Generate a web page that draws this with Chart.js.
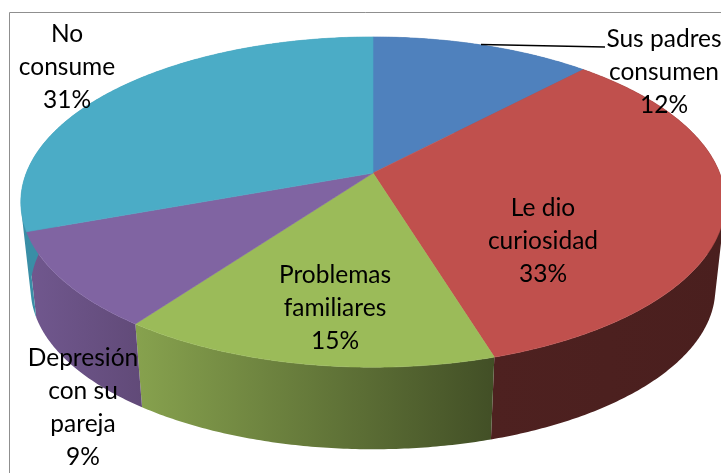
<!DOCTYPE html>
<html>
<head>
<meta charset="utf-8">
<style>
html,body{margin:0;padding:0;background:#fff;overflow:hidden}
canvas{display:block}
</style>
<script src="https://cdn.jsdelivr.net/npm/chart.js@4"></script>
</head>
<body>
<canvas id="c" width="721" height="473"></canvas>
<script>
const categories = ["Sus padres consumen", "Le dio curiosidad", "Problemas familiares", "Depresión con su pareja", "No consume"];
const values = [12, 33.3, 14.7, 9.4, 30.6];
const labelLines = [["Sus padres", "consumen", "12%"], ["Le dio", "curiosidad", "33%"], ["Problemas", "familiares", "15%"], ["Depresión", "con su", "pareja", "9%"], ["No", "consume", "31%"]];
const topColors = ["#4f81bd", "#c0504d", "#9bbb59", "#8064a2", "#4bacc6"];
const wallLeft = ["#3c628f", "#4e2120", "#87a24e", "#71588f", "#3a8ea6"];
const wallRight = ["#3c628f", "#4a1f1e", "#424f26", "#614a78", "#3a8ea6"];

// layout (separate from the data)
const labelAnchors = [[664, 39], [543, 208], [335, 275], [83, 358], [67, 34]];
const lineStep = 33;
const perspective = 0.176, xScale = 2.004, yScale = 0.925, floorScale = 0.972, floorDrop = 87.5;

function project(el, angle, isFloor) {
  const u = Math.cos(angle), v = Math.sin(angle), R = el.outerRadius;
  const s = isFloor ? floorScale : 1, w = 1 - perspective * v;
  return [el.x + s * xScale * R * u / w, el.y + (isFloor ? floorDrop : 0) + s * yScale * R * v / w];
}
function sampleAngles(el) {
  const n = Math.max(2, Math.ceil((el.endAngle - el.startAngle) / 0.01)), out = [];
  for (let i = 0; i <= n; i++) out.push(el.startAngle + (el.endAngle - el.startAngle) * i / n);
  return out;
}
// top face of each slice: the library's arc element, seen through the tilted projection
Chart.ArcElement.prototype.draw = function (ctx) {
  const o = this.options;
  ctx.save();
  ctx.beginPath();
  ctx.moveTo(this.x, this.y);
  sampleAngles(this).forEach(a => { const p = project(this, a, false); ctx.lineTo(p[0], p[1]); });
  ctx.closePath();
  ctx.fillStyle = o.backgroundColor;
  ctx.strokeStyle = o.backgroundColor;
  ctx.lineWidth = 0.6;
  ctx.fill();
  ctx.stroke();
  ctx.restore();
};

const pie3d = {
  id: "pie3d",
  beforeDraw(chart) {
    const ctx = chart.ctx;
    ctx.save();
    ctx.strokeStyle = "#8f8f8f";
    ctx.lineWidth = 1;
    ctx.beginPath();
    ctx.moveTo(721, 12.5);
    ctx.lineTo(9.5, 12.5);
    ctx.lineTo(9.5, 473);
    ctx.stroke();
    ctx.restore();
  },
  beforeDatasetsDraw(chart) {
    const ctx = chart.ctx, arcs = chart.getDatasetMeta(0).data;
    arcs.forEach((el, i) => {
      const angles = sampleAngles(el);
      let minX = Infinity, maxX = -Infinity;
      ctx.beginPath();
      for (let k = 0; k < angles.length - 1; k++) {
        let q = [project(el, angles[k], false), project(el, angles[k + 1], false),
                 project(el, angles[k + 1], true), project(el, angles[k], true)];
        let area = 0;
        q.forEach((p, j) => { const n = q[(j + 1) % 4]; area += p[0] * n[1] - n[0] * p[1]; });
        if (area < 0) q.reverse();
        q.forEach((p, j) => { j ? ctx.lineTo(p[0], p[1]) : ctx.moveTo(p[0], p[1]); });
        ctx.closePath();
        minX = Math.min(minX, q[0][0], q[1][0], q[2][0], q[3][0]);
        maxX = Math.max(maxX, q[0][0], q[1][0], q[2][0], q[3][0]);
      }
      const g = ctx.createLinearGradient(minX, 0, maxX, 0);
      g.addColorStop(0, wallLeft[i]);
      g.addColorStop(1, wallRight[i]);
      ctx.fillStyle = g;
      ctx.fill();
    });
  },
  afterDraw(chart) {
    const ctx = chart.ctx;
    ctx.save();
    // leader line of the first label
    ctx.strokeStyle = "#000";
    ctx.lineWidth = 1.6;
    ctx.beginPath();
    ctx.moveTo(481, 44.5);
    ctx.lineTo(605, 47);
    ctx.stroke();
    ctx.fillStyle = "#000";
    ctx.font = '24.5px Lato, "Open Sans", sans-serif';
    ctx.textAlign = "center";
    ctx.textBaseline = "middle";
    labelLines.forEach((lines, i) => {
      lines.forEach((t, j) => ctx.fillText(t, labelAnchors[i][0], labelAnchors[i][1] + j * lineStep));
    });
    ctx.restore();
  }
};

new Chart(document.getElementById("c"), {
  type: "pie",
  data: { labels: categories, datasets: [{ data: values, backgroundColor: topColors, borderWidth: 0 }] },
  options: {
    responsive: false,
    animation: false,
    layout: { padding: { left: 25, bottom: 127, top: 0, right: 0 } },
    plugins: { legend: { display: false }, tooltip: { enabled: false } },
    events: []
  },
  plugins: [pie3d]
});
</script>
</body>
</html>
